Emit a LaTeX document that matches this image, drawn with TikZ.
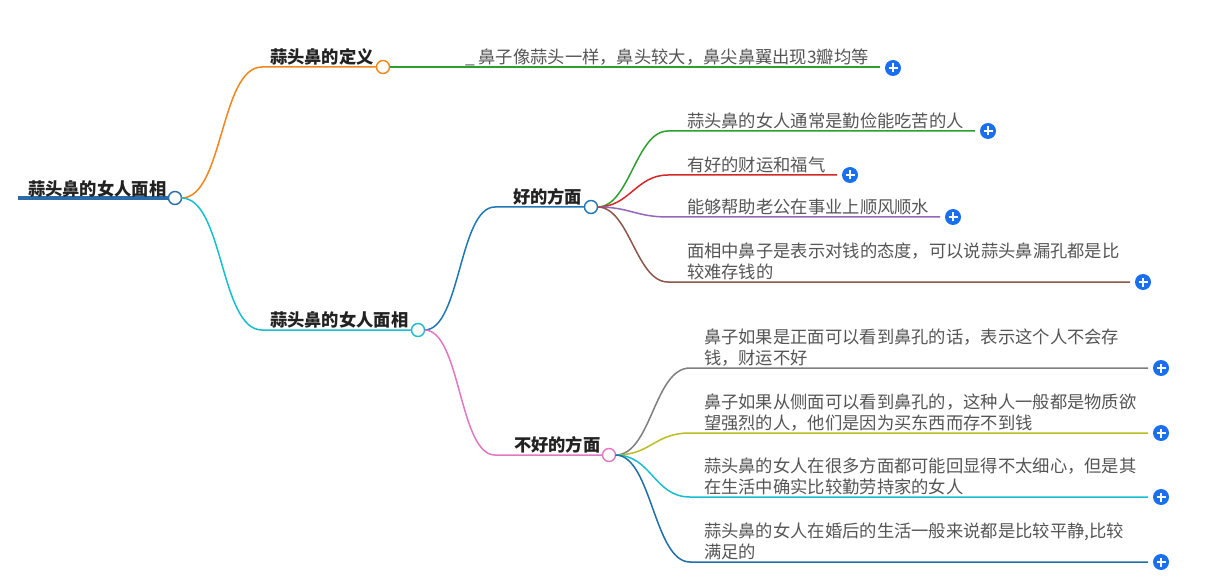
\documentclass[tikz,border=0pt]{standalone}
\usepackage{fontspec}
\setmainfont{Noto Sans CJK SC}
\definecolor{orangeC}{HTML}{F0861C}
\definecolor{greenC}{HTML}{2CA02C}
\definecolor{cyanC}{HTML}{17BECF}
\definecolor{blueC}{HTML}{1F77B4}
\definecolor{rootC}{HTML}{2B6CA8}
\definecolor{pinkC}{HTML}{E377C2}
\definecolor{redC}{HTML}{D62728}
\definecolor{purpleC}{HTML}{9467BD}
\definecolor{brownC}{HTML}{8C564B}
\definecolor{grayC}{HTML}{7F7F7F}
\definecolor{oliveC}{HTML}{BCBD22}
\definecolor{dblueC}{HTML}{1F6FA8}
\definecolor{plusC}{HTML}{1A6FEF}
\definecolor{mainT}{HTML}{222222}
\definecolor{leafT}{HTML}{555555}
\tikzset{
  every node/.style={inner sep=0pt, outer sep=0pt},
  mainlbl/.style={font=\fontsize{17.3}{21}\selectfont\bfseries, text=mainT, anchor=south west},
  leaflbl/.style={font=\fontsize{17.3}{21}\selectfont, text=leafT, anchor=south west, align=left},
  dot/.style={circle, draw, line width=1.4pt, fill=white, minimum size=13pt},
  plusbtn/.style={circle, fill=plusC, minimum size=16pt,
    path picture={\draw[white, line width=1.6pt]
      ([xshift=-4.5pt]path picture bounding box.center) -- ([xshift=4.5pt]path picture bounding box.center)
      ([yshift=-4.5pt]path picture bounding box.center) -- ([yshift=4.5pt]path picture bounding box.center);}},
  link/.style={line width=1.5pt},
}
\begin{document}
\begin{tikzpicture}[x=1pt, y=-1pt]
\useasboundingbox[fill=white] (0,0) rectangle (1220,585);
% helper x positions
\coordinate (rs) at (18,198);
\coordinate (kx) at (262,0);
\coordinate (ax) at (495,0);
\coordinate (gx) at (668,0);
\coordinate (bx) at (690,0);

% root
\node[dot, draw=rootC] (r) at (175,198) {};
\draw[line width=3.5pt, rootC] (rs) -- (r.west);
\node[mainlbl] (rt) at (28,197) {蒜头鼻的女人面相};

% level 1
\node[dot, draw=orangeC] (d) at (383,67) {};
\node[mainlbl] (dt) at (270,65) {蒜头鼻的定义};
\draw[link, orangeC] (r.east) .. controls +(42,0) and +(-42,0) .. (kx |- d.west) -- (d.west);

\node[dot, draw=cyanC] (m) at (418,330) {};
\node[mainlbl] (mt) at (270,328) {蒜头鼻的女人面相};
\draw[link, cyanC] (r.east) .. controls +(42,0) and +(-42,0) .. (kx |- m.west) -- (m.west);

% definition leaf
\node[plusbtn] (p0) at (893,68) {};
\node[leaflbl] (t0) at (465,66) {\_ 鼻子像蒜头一样，鼻头较大，鼻尖鼻翼出现3瓣均等};
\draw[link, greenC] (d.east) -- ([xshift=-5pt]p0.west |- d.east);

% level 2
\node[dot, draw=blueC] (g) at (591,207) {};
\node[mainlbl] (gt) at (513,205) {好的方面};
\draw[link, blueC] (m.east) .. controls +(36,0) and +(-36,0) .. (ax |- g.west) -- (g.west);

\node[dot, draw=pinkC] (b) at (609,455) {};
\node[mainlbl] (bt) at (514,453) {不好的方面};
\draw[link, pinkC] (m.east) .. controls +(36,0) and +(-36,0) .. (ax |- b.west) -- (b.west);

% good leaves
\node[plusbtn] (g1p) at (988,131) {};
\node[leaflbl] (g1) at (687,129) {蒜头鼻的女人通常是勤俭能吃苦的人};
\draw[link, greenC] (g.east) .. controls +(32,0) and +(-32,0) .. (gx |- g1p.west) -- ([xshift=-5pt]g1p.west);

\node[plusbtn] (g2p) at (850,175) {};
\node[leaflbl] (g2) at (687,173) {有好的财运和福气};
\draw[link, redC] (g.east) .. controls +(32,0) and +(-32,0) .. (gx |- g2p.west) -- ([xshift=-5pt]g2p.west);

\node[plusbtn] (g3p) at (953,217) {};
\node[leaflbl] (g3) at (687,215) {能够帮助老公在事业上顺风顺水};
\draw[link, purpleC] (g.east) .. controls +(32,0) and +(-32,0) .. (gx |- g3p.west) -- ([xshift=-5pt]g3p.west);

\node[plusbtn] (g4p) at (1143,282) {};
\node[leaflbl] (g4) at (687,280) {面相中鼻子是表示对钱的态度，可以说蒜头鼻漏孔都是比\\较难存钱的};
\draw[link, brownC] (g.east) .. controls +(32,0) and +(-32,0) .. (gx |- g4p.west) -- ([xshift=-5pt]g4p.west);

% bad leaves
\node[plusbtn] (b1p) at (1161,368) {};
\node[leaflbl] (b1) at (704,366) {鼻子如果是正面可以看到鼻孔的话，表示这个人不会存\\钱，财运不好};
\draw[link, grayC] (b.east) .. controls +(36,0) and +(-36,0) .. (bx |- b1p.west) -- ([xshift=-5pt]b1p.west);

\node[plusbtn] (b2p) at (1161,433) {};
\node[leaflbl] (b2) at (704,431) {鼻子如果从侧面可以看到鼻孔的，这种人一般都是物质欲\\望强烈的人，他们是因为买东西而存不到钱};
\draw[link, oliveC] (b.east) .. controls +(36,0) and +(-36,0) .. (bx |- b2p.west) -- ([xshift=-5pt]b2p.west);

\node[plusbtn] (b3p) at (1161,497) {};
\node[leaflbl] (b3) at (704,495) {蒜头鼻的女人在很多方面都可能回显得不太细心，但是其\\在生活中确实比较勤劳持家的女人};
\draw[link, cyanC] (b.east) .. controls +(36,0) and +(-36,0) .. (bx |- b3p.west) -- ([xshift=-5pt]b3p.west);

\node[plusbtn] (b4p) at (1161,562) {};
\node[leaflbl] (b4) at (704,560) {蒜头鼻的女人在婚后的生活一般来说都是比较平静,比较\\满足的};
\draw[link, dblueC] (b.east) .. controls +(36,0) and +(-36,0) .. (bx |- b4p.west) -- ([xshift=-5pt]b4p.west);
\end{tikzpicture}
\end{document}
